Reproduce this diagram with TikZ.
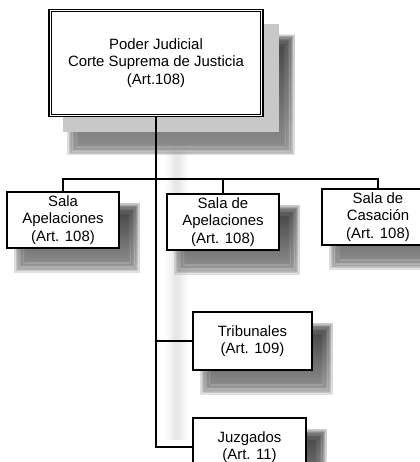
\documentclass[tikz,border=0pt]{standalone}
\usepackage{fontspec}
\setmainfont{Liberation Sans}
\usepackage{tikz}
\usetikzlibrary{calc,backgrounds}
\definecolor{ink}{HTML}{000000}
\definecolor{shade}{HTML}{1E1E1E}
\definecolor{slab}{HTML}{C8C8C8}
\tikzset{
  box/.style={draw=ink, fill=white, line width=0.8pt, align=center, inner sep=0pt,
    font=\fontsize{11.2}{13.1}\selectfont},
  sala/.style={box, minimum width=84pt, minimum height=42pt},
  link/.style={draw=ink, line width=0.8pt},
  ghost/.style={draw=black, opacity=0.022},
}
\newcommand\boxshade[3]{%
  \foreach \g in {0,...,9}{
    \fill[shade, opacity=0.15]
      ($(#1.south west)+(#2-6+1.3*\g,#3+6-1.3*\g)$) rectangle ($(#1.north east)+(#2+6-1.3*\g,#3-6+1.3*\g)$);
  }}

\begin{document}
\begin{tikzpicture}[x=0.75pt, y=-0.75pt]
  \useasboundingbox (0,0) rectangle (420,462);
  \clip (0,0) rectangle (420,462);
  % boxes
  \node[box, minimum width=160.5pt, minimum height=80.6pt] (cs) at (156,63)
    {Poder Judicial\\Corte Suprema de Justicia\\(Art.108)};
  \draw[line width=0.5pt] ($(cs.south west)+(3,-3)$) rectangle ($(cs.north east)+(-3,3)$);
  \node[sala] (sa) at (63,220) {Sala\\Apelaciones\\(Art. 108)};
  \node[sala] (sm) at (223,222) {Sala de\\Apelaciones\\(Art. 108)};
  \node[sala] (sc) at (378,217) {Sala de\\Casación\\(Art. 108)};
  \node[box, minimum width=89.25pt, minimum height=43.5pt] (tr) at (252.5,341) {Tribunales\\(Art. 109)};
  \node[box, minimum width=84.75pt, minimum height=43.5pt] (jz) at (249.5,447) {Juzgados\\(Art. 11)};
  % connectors
  \coordinate (bus) at (156,179);
  \draw[link] (cs.south) -- (cs.south |- jz.west) -- (jz.west);
  \draw[link] (cs.south |- tr.west) -- (tr.west);
  \draw[link] (sa.north) |- (bus) -| (sc.north);
  \draw[link] (sm.north) -- (sm.north |- bus);
  % shadows
  \begin{scope}[on background layer]
    \clip (0,0) rectangle (420,462);
    \foreach \w in {4,8,12,16}
      \draw[ghost, line width=\w pt] (177,140) -- (177,440);
    \boxshade{cs}{25}{32}
    \fill[slab] ($(cs.south west)+(15,15)$) rectangle ($(cs.north east)+(15,15)$);
    \boxshade{sa}{14}{18}
    \boxshade{sm}{14}{18}
    \boxshade{sc}{14}{18}
    \boxshade{tr}{14}{18}
    \boxshade{jz}{14}{18}
  \end{scope}
\end{tikzpicture}
\end{document}
